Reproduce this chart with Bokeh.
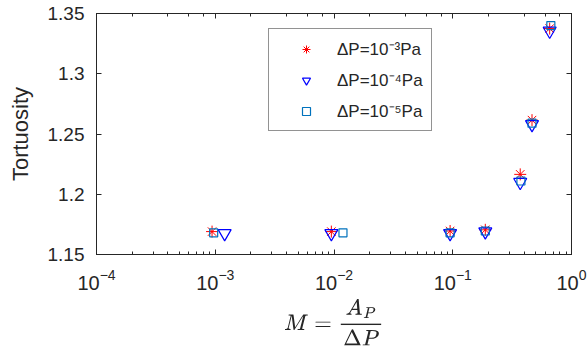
from bokeh.plotting import figure
from bokeh.models import (LogAxis, LinearAxis, FixedTicker, LogTicker, CustomJSTickFormatter,
                          Legend, LegendItem)
from bokeh.embed import file_html
from bokeh.resources import INLINE

# Data
m_dp3 = [0.00094, 0.0095, 0.095, 0.188, 0.37, 0.465, 0.655]
t_dp3 = [1.169, 1.169, 1.1695, 1.1705, 1.2165, 1.2615, 1.3375]
m_dp4 = [0.0012, 0.0095, 0.095, 0.188, 0.37, 0.465, 0.655]
t_dp4 = [1.1675, 1.1675, 1.1675, 1.169, 1.2100, 1.2580, 1.3355]
m_dp5 = [0.00097, 0.0119, 0.095, 0.188, 0.375, 0.465, 0.670]
t_dp5 = [1.168, 1.168, 1.168, 1.1695, 1.2110, 1.2590, 1.3400]
labels = ["ΔP=10⁻³Pa", "ΔP=10⁻⁴Pa", "ΔP=10⁻⁵Pa"]
y_ticks = [1.15, 1.2, 1.25, 1.3, 1.35]

FONT = "Liberation Sans"
AX = "#262626"

p = figure(frame_width=475, frame_height=241, x_axis_type="log", x_range=(1e-4, 1),
           y_range=(1.15, 1.35), output_backend="svg", toolbar_location=None,
           min_border_left=96, min_border_right=16, min_border_top=13, min_border_bottom=94)
p.grid.visible = False
p.outline_line_color = AX
p.background_fill_color = "white"

r1 = p.scatter(m_dp3, t_dp3, marker="asterisk", size=12, line_color="#FF0000", line_width=1)
r2 = p.scatter(m_dp4, t_dp4, marker="inverted_triangle", size=13, line_color="#0000FF",
               fill_color=None, line_width=1.2)
r3 = p.scatter(m_dp5, t_dp5, marker="square", size=8, line_color="#0072BD",
               fill_color=None, line_width=1.2)

def style(ax, show=True):
    ax.axis_line_color = AX
    ax.major_tick_line_color = AX
    ax.minor_tick_line_color = AX
    ax.major_tick_in = 5
    ax.major_tick_out = 0
    ax.minor_tick_in = 3
    ax.minor_tick_out = 0
    ax.major_label_text_font = FONT
    ax.major_label_text_color = AX
    ax.axis_label_text_color = AX
    if not show:
        ax.formatter = CustomJSTickFormatter(code="return ''")
        ax.major_label_standoff = 0

# bottom x axis
xa = p.xaxis[0]
style(xa)
xa.major_label_text_font_size = "20px"
xa.major_label_standoff = 14
xa.axis_label = r"$$M = \frac{A_P}{\Delta P}$$"
xa.axis_label_text_font_size = "19px"
xa.axis_label_standoff = 6

# left y axis
ya = p.yaxis[0]
ya.ticker = FixedTicker(ticks=y_ticks)
ya.formatter = CustomJSTickFormatter(code="return String(Math.round(tick*100)/100)")
style(ya)
ya.major_label_text_font_size = "19px"
ya.major_label_standoff = 12
ya.axis_label = "Tortuosity"
ya.axis_label_text_font = FONT
ya.axis_label_text_font_style = "normal"
ya.axis_label_text_font_size = "22px"
ya.axis_label_standoff = 12

# top and right axes (box)
top = LogAxis(ticker=LogTicker())
style(top, show=False)
p.add_layout(top, "above")
right = LinearAxis(ticker=FixedTicker(ticks=y_ticks))
style(right, show=False)
p.add_layout(right, "right")

legend = Legend(items=[LegendItem(label=labels[0], renderers=[r1]),
                       LegendItem(label=labels[1], renderers=[r2]),
                       LegendItem(label=labels[2], renderers=[r3])],
                location=(172, 123))
legend.label_text_font = FONT
legend.label_text_font_size = "17px"
legend.label_text_color = AX
legend.border_line_color = AX
legend.border_line_width = 1
legend.background_fill_alpha = 1
legend.padding = 8
legend.spacing = 8
legend.glyph_width = 58
legend.glyph_height = 20
legend.label_height = 20
legend.label_standoff = 2
legend.margin = 0
p.add_layout(legend)

open("out.html", "w").write(file_html(p, INLINE))
